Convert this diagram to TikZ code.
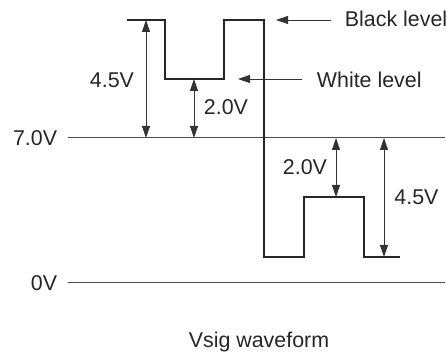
\documentclass[tikz,border=0pt]{standalone}
\usepackage{fontspec}
\setmainfont{Liberation Sans}
\usetikzlibrary{arrows.meta,calc}
\def\lvlblack{20}
\def\lvlwhite{79}
\def\lvlref{138}
\def\lvlsync{257}
\def\lvlpulse{197}
\def\lvlzero{283}

\begin{document}
\begin{tikzpicture}[
            x=0.5pt, y=-0.5pt,
            wave/.style={%
                line width=1.1pt, black!85, line join=miter%
            },
            axisline/.style={%
                line width=0.5pt, black!70%
            },
            dimarrow/.style={%
                line width=0.4pt, black!80,%
                {Triangle[length=6pt,width=4pt]}-{Triangle[length=6pt,width=4pt]}%
            },
            arrow/.style={%
                line width=0.4pt, black!80, -{Triangle[length=6pt,width=4pt]}%
            },
            lbl/.style={%
                font=\fontsize{10.7}{12}\selectfont, text=black!85, inner sep=0pt%
            }
        ]
        \useasboundingbox (0,0) rectangle (448,356);

        % Define levels
        \coordinate (ref_l) at (68,\lvlref);
        \coordinate (ref_r) at (445,\lvlref);
        \coordinate (zero_l) at (68,\lvlzero);
        \coordinate (zero_r) at (445,\lvlzero);

        \node (lab_ref) [lbl, anchor=east] at (57.5,\lvlref) {7.0V};
        \node (lab_zero) [lbl, anchor=east] at (57.5,\lvlzero) {0V};

        \draw [axisline] (ref_l) -- (ref_r);
        \draw [axisline] (zero_l) -- (zero_r);

        % Waveform
        \draw [wave]
            (127,\lvlblack) -- (165,\lvlblack) -- (165,\lvlwhite)
            -- (224,\lvlwhite) -- (224,\lvlblack) -- (264,\lvlblack)
            -- (264,\lvlsync) -- (304,\lvlsync) -- (304,\lvlpulse)
            -- (364,\lvlpulse) -- (364,\lvlsync) -- (400,\lvlsync);

        % Dimensions
        \coordinate (dimA_top) at (146,\lvlblack);
        \coordinate (dimA_bot) at (146,\lvlref);
        \coordinate (dimB_top) at (194,\lvlwhite);
        \coordinate (dimB_bot) at (194,\lvlref);
        \coordinate (dimC_top) at (336,\lvlref);
        \coordinate (dimC_bot) at (336,\lvlpulse);
        \coordinate (dimD_top) at (384,\lvlref);
        \coordinate (dimD_bot) at (384,\lvlsync);

        \draw [dimarrow] (dimA_top) -- (dimA_bot);
        \draw [dimarrow] (dimB_top) -- (dimB_bot);
        \draw [dimarrow] (dimC_top) -- (dimC_bot);
        \draw [dimarrow] (dimD_top) -- (dimD_bot);

        \node (lab_A) [lbl] at (112,80) {4.5V};
        \node (lab_B) [lbl] at (226,107.5) {2.0V};
        \node (lab_C) [lbl] at (305,167) {2.0V};
        \node (lab_D) [lbl] at (416.5,197.5) {4.5V};

        % Level pointers
        \node (black) [lbl, anchor=west] at (344.5,19) {Black level};
        \node (white) [lbl, anchor=west] at (316.5,80) {White level};
        \coordinate (black_tip) at (276,\lvlblack);
        \coordinate (white_tip) at (238,\lvlwhite);
        \draw [arrow] (331,\lvlblack) -- (black_tip);
        \draw [arrow] (302,\lvlwhite) -- (white_tip);

        \node (caption) [lbl] at (259,341.5) {Vsig waveform};

        \end{tikzpicture}
\end{document}
